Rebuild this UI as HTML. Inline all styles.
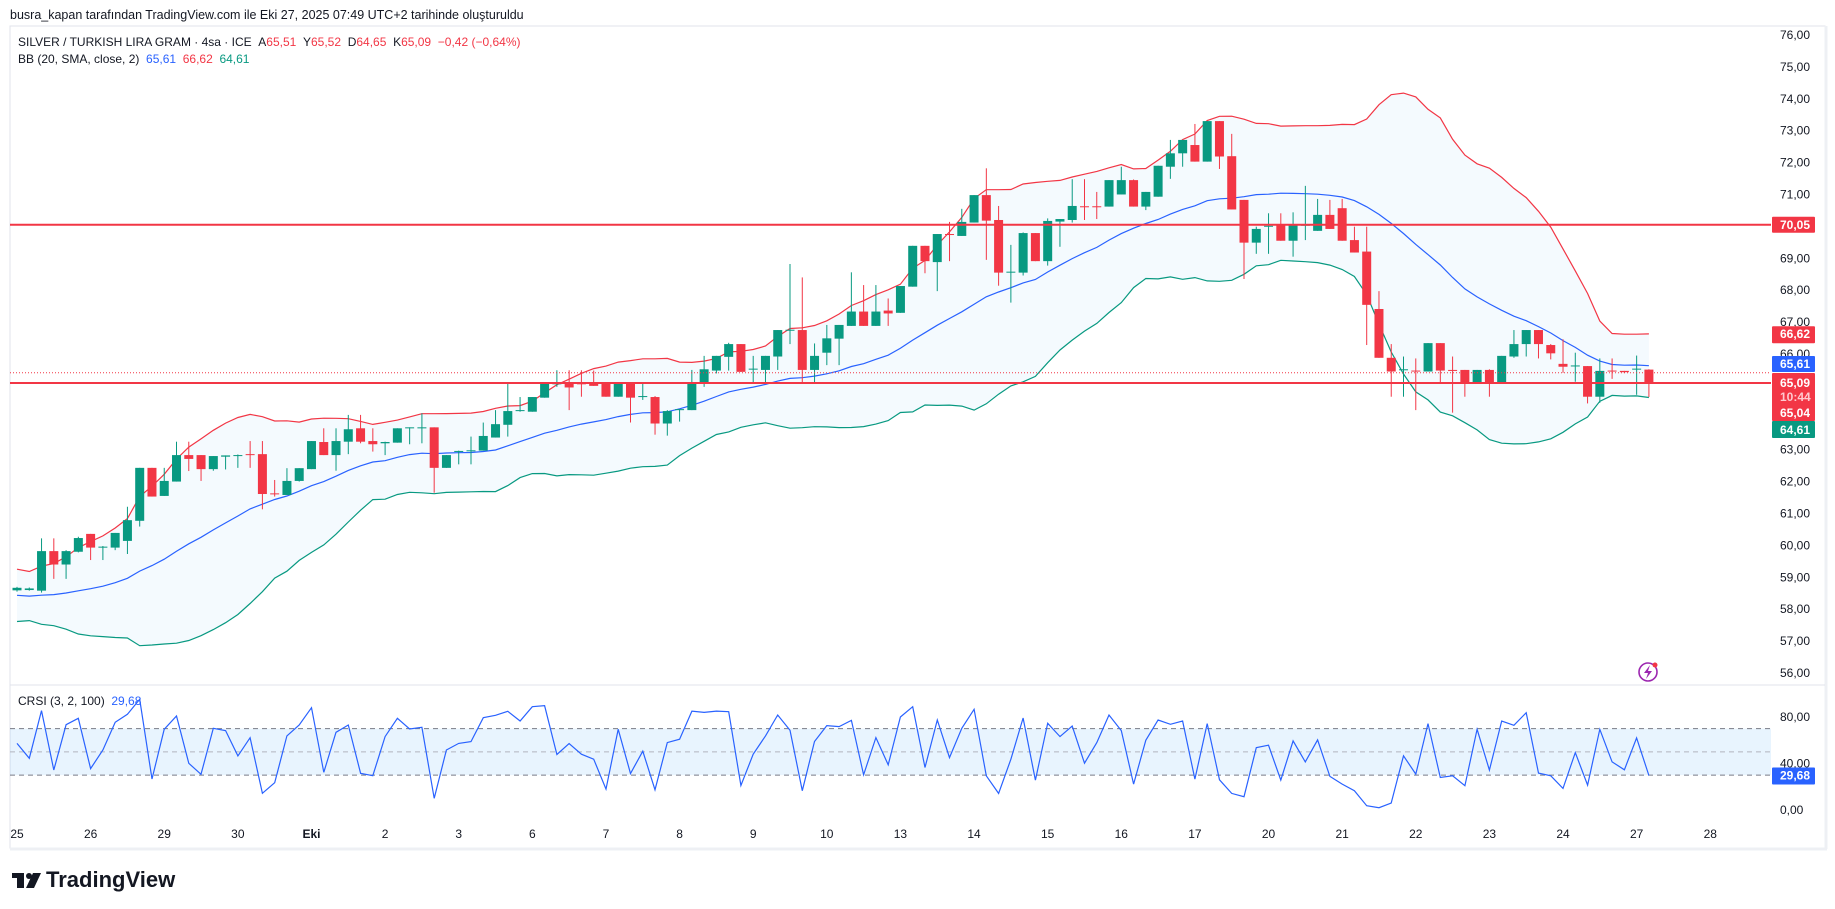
<!DOCTYPE html>
<html><head><meta charset="utf-8">
<style>
html,body{margin:0;padding:0;background:#fff;}
body{width:1835px;height:909px;position:relative;overflow:hidden;font-family:"Liberation Sans",sans-serif;color:#131722;}
.t{position:absolute;white-space:nowrap;font-size:12px;line-height:14px;}
.r{color:#f23645}.b{color:#2962ff}.g{color:#089981}
svg{position:absolute;left:0;top:0;}
</style></head>
<body>
<div class="t" style="left:10px;top:8px;font-size:12.5px;">busra_kapan tarafından TradingView.com ile Eki 27, 2025 07:49 UTC+2 tarihinde oluşturuldu</div>
<svg id="chart" width="1835" height="909"></svg>
<div class="t" style="left:18px;top:35px;">SILVER / TURKISH LIRA GRAM · 4sa · ICE&nbsp;&nbsp;A<span class="r">65,51</span>&nbsp;&nbsp;Y<span class="r">65,52</span>&nbsp;&nbsp;D<span class="r">64,65</span>&nbsp;&nbsp;K<span class="r">65,09</span>&nbsp;&nbsp;<span class="r">−0,42 (−0,64%)</span></div>
<div class="t" style="left:18px;top:52px;">BB (20, SMA, close, 2)&nbsp;&nbsp;<span class="b">65,61</span>&nbsp;&nbsp;<span class="r">66,62</span>&nbsp;&nbsp;<span class="g">64,61</span></div>
<div class="t" style="left:18px;top:694px;">CRSI (3, 2, 100)&nbsp;&nbsp;<span class="b">29,68</span></div>
<div style="position:absolute;left:12px;top:868px;height:24px;">
<svg width="30" height="24" style="position:absolute;left:0;top:2px;"><rect x="0" y="3" width="12" height="5" fill="#131722"/><rect x="5" y="3" width="7" height="15" fill="#131722"/><circle cx="17" cy="6" r="3" fill="#131722"/><polygon points="21,3 29,3 22,18 14,18" fill="#131722"/></svg>
<div style="position:absolute;left:34px;top:0;font-size:22px;font-weight:bold;color:#131722;white-space:nowrap;line-height:24px;">TradingView</div>
</div>
<script>
// ---------- data ----------
const dayLabels=["25","26","29","30","Eki","2","3","6","7","8","9","10","13","14","15","16","17","20","21","22","23","24","27","28"];
const priceTicks=[76,75,74,73,72,71,69,68,67,66,63,62,61,60,59,58,57,56];
const crsiTicks=[80,40,0];
const bbLastValues=[65.61,66.62,64.61];
const warmupCloses=[59.1,59.3,59.0,58.8,58.9,58.6,58.4,58.2,58.0,57.9,58.1,58.0,57.8,58.1,58.3,58.2,58.4,58.5,58.4];
const opens=[58.59,58.60,58.58,59.82,59.40,59.80,60.36,59.94,59.93,60.14,60.77,62.43,61.55,62.00,62.83,62.83,62.39,62.78,62.80,62.86,62.86,61.63,61.58,62.02,62.39,63.24,62.83,63.25,63.67,63.27,63.20,63.22,63.68,63.68,63.70,62.43,62.94,62.95,62.97,63.38,63.78,64.22,64.19,64.63,65.06,65.07,65.08,65.07,65.07,64.66,65.07,64.66,64.65,63.82,64.25,64.24,65.07,65.48,65.91,66.31,65.52,65.50,65.92,66.74,66.75,65.50,66.04,66.48,66.88,67.33,66.88,67.36,67.29,68.11,69.39,68.88,69.76,69.70,70.12,70.98,70.20,68.56,68.55,69.79,68.91,70.15,70.20,70.63,70.63,70.62,71.00,71.45,70.62,70.93,71.87,72.29,72.55,72.03,73.30,72.20,70.83,69.49,70.00,70.03,69.55,70.02,69.86,70.36,70.57,69.57,69.21,67.41,65.88,65.50,65.48,65.45,66.34,65.50,65.50,65.08,65.50,65.08,65.92,66.31,66.75,66.28,65.69,65.62,65.62,64.66,65.48,65.47,65.52,65.51];
const highs=[58.70,58.68,60.22,60.22,59.85,60.27,60.36,59.98,60.39,61.21,62.43,62.43,62.43,63.25,63.25,62.83,62.80,62.82,62.85,63.27,63.27,62.05,62.42,62.42,63.27,63.67,63.67,64.09,64.09,63.67,63.25,63.67,63.70,64.14,63.70,62.83,62.97,63.41,63.85,64.24,65.07,64.65,64.65,65.07,65.49,65.49,65.49,65.48,65.07,65.07,65.07,65.07,64.68,64.24,64.27,65.50,65.94,65.94,66.35,66.31,65.94,65.94,66.75,68.82,68.40,66.33,66.91,66.91,68.56,68.16,68.16,67.74,68.13,69.39,69.39,69.76,70.14,70.55,70.98,71.82,70.64,69.42,69.81,69.79,70.25,70.23,71.48,71.48,71.08,71.45,71.87,71.47,71.08,71.90,72.71,72.71,73.21,73.30,73.30,72.90,70.83,69.99,70.41,70.41,70.44,71.27,70.86,70.83,70.86,69.99,69.99,67.97,66.31,65.92,65.86,66.34,66.34,65.92,65.50,65.50,65.52,65.94,66.75,66.75,66.75,66.31,66.46,66.04,65.62,65.86,65.86,65.47,65.95,65.52];
const lows=[58.55,58.58,58.52,58.95,58.95,59.78,59.54,59.54,59.85,59.73,60.59,61.53,61.55,62.00,62.33,62.02,62.34,62.38,62.43,62.43,61.13,61.53,61.58,62.00,62.39,62.83,62.34,62.86,63.20,62.94,62.83,63.22,63.17,63.20,61.65,62.43,62.54,62.54,62.97,63.38,63.41,64.19,64.19,64.63,64.97,64.24,64.66,65.00,64.66,64.66,63.85,64.56,63.47,63.44,63.88,64.24,64.97,65.39,65.48,65.44,65.07,65.07,65.50,66.31,65.07,65.07,65.65,65.65,66.88,66.88,66.88,66.88,67.29,68.11,68.53,67.97,68.91,69.70,70.12,68.95,68.14,67.61,68.46,68.91,68.77,69.36,70.12,70.20,70.23,70.62,71.00,70.62,70.51,70.93,71.49,71.87,72.03,72.03,71.80,70.53,68.35,69.14,69.14,69.55,69.05,69.57,69.86,69.92,69.55,69.18,66.28,65.88,64.66,64.66,64.24,65.45,65.08,64.16,64.66,65.08,64.66,65.08,65.88,65.92,65.86,65.83,65.41,65.13,64.45,64.47,65.22,65.40,64.72,64.65];
const closes=[58.67,58.65,59.82,59.40,59.82,60.23,59.93,59.96,60.39,60.79,62.43,61.53,62.02,62.83,62.71,62.39,62.80,62.82,62.83,62.83,61.61,61.60,62.02,62.42,63.27,62.83,63.27,63.64,63.25,63.17,63.24,63.67,63.70,63.70,62.43,62.83,62.96,62.98,63.43,63.80,64.21,64.24,64.65,65.07,65.08,64.95,65.06,65.00,64.66,65.07,64.63,64.68,63.82,64.21,64.27,65.07,65.52,65.94,66.31,65.44,65.54,65.94,66.75,66.76,65.50,65.94,66.49,66.91,67.33,66.88,67.33,67.27,68.13,69.39,68.91,69.76,69.74,70.14,70.98,70.18,68.55,68.58,69.79,68.91,70.17,70.23,70.64,70.60,70.62,71.45,71.45,70.62,71.08,71.90,72.29,72.71,72.03,73.30,72.19,70.53,69.49,69.92,70.02,69.55,70.03,70.05,70.36,69.92,69.55,69.18,67.54,65.88,65.45,65.52,65.46,66.34,65.48,65.47,65.08,65.50,65.08,65.94,66.31,66.75,66.31,66.02,65.60,65.64,64.66,65.47,65.46,65.43,65.54,65.09];
const crsiValues=[57.3,44.5,85.5,34.4,73.4,78.9,35.6,51.6,75.4,82.3,95.2,26.7,69.4,80.9,40.2,30.7,70.3,68.3,46.5,62.2,14.4,23.5,63.7,73.1,88.0,32.4,66.8,73.1,31.6,29.5,63.1,78.9,69.7,71.1,10.1,51.6,57.3,58.8,79.4,81.5,84.9,76.6,88.9,89.7,47.7,57.1,48.0,43.7,18.0,69.4,31.4,50.6,17.4,58.0,60.9,85.1,84.0,85.1,84.6,21.1,48.0,63.7,81.7,68.6,16.6,58.9,72.6,71.7,77.1,30.3,62.3,38.9,80.0,88.9,36.6,77.4,45.1,70.3,86.6,29.4,14.3,43.7,79.1,25.7,74.6,63.1,72.3,40.3,58.0,81.7,68.3,22.3,60.0,77.4,73.7,76.6,26.6,74.3,26.0,14.3,11.4,53.7,55.7,25.7,59.4,41.4,60.3,28.9,22.3,16.6,3.7,2.0,6.0,46.6,30.9,74.3,28.0,29.4,20.9,69.4,34.3,76.6,72.9,83.7,31.7,29.4,18.6,49.4,21.4,69.4,41.4,34.6,62.0,29.68];
const hLevels=[70.05,65.09];
const prevCloseLevel=65.41;

// ---------- scales ----------
const NS="http://www.w3.org/2000/svg";
const svg=document.getElementById('chart');
const PL=10, PR=1771;
function xI(i){return 17+12.27*i;}
function yP(v){return 383-(v-65.09)*31.9;}
function yC(v){return 810-v*1.1625;}
function mk(tag,attrs,parent){const e=document.createElementNS(NS,tag);for(const k in attrs)e.setAttribute(k,attrs[k]);(parent||svg).appendChild(e);return e;}
function fmt(v){return v.toFixed(2).replace('.',',');}

let e;
e=mk('rect',{x:10,y:26,width:1815,height:822,fill:'none',stroke:'#e0e3eb','stroke-width':1});


e=mk('line',{x1:1826,y1:26,x2:1826,y2:849,stroke:'#eef0f4','stroke-width':3});


e=mk('line',{x1:10,y1:849,x2:1827,y2:849,stroke:'#eef0f4','stroke-width':3});


e=mk('line',{x1:10,y1:685,x2:1825,y2:685,stroke:'#e0e3eb','stroke-width':1});



const defs=mk('defs',{});
const cp=mk('clipPath',{id:'pc'},defs);
mk('rect',{x:PL,y:27,width:PR-PL,height:657},cp);
const pane=mk('g',{'clip-path':'url(#pc)'});



const all=warmupCloses.concat(closes);
const up=[],mid=[],lo=[];
for(let i=0;i<closes.length;i++){
  const w=all.slice(i+warmupCloses.length-19,i+warmupCloses.length+1);
  const m=w.reduce((a,b)=>a+b,0)/w.length;
  const sd=Math.sqrt(w.reduce((a,b)=>a+(b-m)*(b-m),0)/w.length);
  mid.push(m);up.push(m+2*sd);lo.push(m-2*sd);
}
let fillD='M'+up.map((v,i)=>xI(i).toFixed(1)+','+yP(v).toFixed(1)).join('L');
for(let i=lo.length-1;i>=0;i--)fillD+='L'+xI(i).toFixed(1)+','+yP(lo[i]).toFixed(1);
e=mk('path',{d:fillD+'Z',fill:'rgba(33,150,243,0.05)',stroke:'none'},pane);


function line(arr,col,yf,par){
  return mk('polyline',{points:arr.map((v,i)=>xI(i).toFixed(1)+','+yf(v).toFixed(1)).join(' '),fill:'none',stroke:col,'stroke-width':1.2},par);
}
e=line(up,'#f23645',yP,pane);


e=line(mid,'#2962ff',yP,pane);


e=line(lo,'#089981',yP,pane);



e=mk('line',{x1:PL,x2:PR,y1:yP(prevCloseLevel),y2:yP(prevCloseLevel),stroke:'#f23645','stroke-width':1,'stroke-dasharray':'1,2'});


hLevels.forEach(v=>{
  const l=mk('line',{x1:PL,x2:PR,y1:yP(v),y2:yP(v),stroke:'#f23645','stroke-width':2});
  
  
});

for(let i=0;i<closes.length;i++){
  const g=mk('g',{},pane);
  
  
  const col=closes[i]>=opens[i]?'#089981':'#f23645';
  const x=xI(i);
  mk('line',{x1:x,x2:x,y1:yP(highs[i]),y2:yP(lows[i]),stroke:col,'stroke-width':1},g);
  const t=yP(Math.max(opens[i],closes[i])),b=yP(Math.min(opens[i],closes[i]));
  mk('rect',{x:x-4.5,y:t,width:9,height:Math.max(1,b-t),fill:col},g);
}

priceTicks.forEach(v=>{
  const t=mk('text',{x:1780,y:yP(v)+4,'font-size':12,fill:'#131722','font-family':'Liberation Sans, sans-serif'});
  t.textContent=fmt(v);
  
  
});
function tag(y1,y2,col,lines,name){
  const g=mk('g',{});
  
  
  mk('rect',{x:1772,y:y1,width:43,height:y2-y1,fill:col,rx:1},g);
  lines.forEach(l=>{const t=mk('text',{x:1780,y:l[1],'font-size':12,'font-weight':'bold',fill:l[2]||'#fff','font-family':'Liberation Sans, sans-serif'},g);t.textContent=l[0];});
}
tag(yP(70.05)-8,yP(70.05)+8,'#f23645',[['70,05',yP(70.05)+4]],'level-70-05-label');
tag(yP(bbLastValues[1])-8,yP(bbLastValues[1])+9,'#f23645',[[fmt(bbLastValues[1]),yP(bbLastValues[1])+4]],'bb-upper-label');
tag(356,372,'#2962ff',[[fmt(bbLastValues[0]),368]],'bb-basis-label');
tag(373,421,'#f23645',[['65,09',387],['10:44',401,'#ffc9cf'],['65,04',417]],'last-price-label');
tag(421,438,'#089981',[[fmt(bbLastValues[2]),434]],'bb-lower-label');

e=mk('rect',{x:PL,y:yC(70),width:PR-PL,height:yC(30)-yC(70),fill:'rgba(33,150,243,0.1)'});


[70,50,30].forEach(v=>{
  const l=mk('line',{x1:PL,x2:PR,y1:yC(v),y2:yC(v),stroke:v==50?'#b2b5be':'#787b86','stroke-width':1,'stroke-dasharray':'5,4'});
  
  
});
e=line(crsiValues,'#2962ff',yC,null);


crsiTicks.forEach(v=>{
  const t=mk('text',{x:1780,y:yC(v)+4,'font-size':12,fill:'#131722','font-family':'Liberation Sans, sans-serif'});
  t.textContent=fmt(v);
  
  
});
const cl=crsiValues[crsiValues.length-1];
tag(yC(cl)-8,yC(cl)+9,'#2962ff',[[fmt(cl),yC(cl)+4]],'crsi-value-label');

dayLabels.forEach((d,k)=>{
  const t=mk('text',{x:xI(k*6),y:838,'font-size':12,'text-anchor':'middle',fill:'#131722','font-weight':d==='Eki'?'bold':'normal','font-family':'Liberation Sans, sans-serif'});
  t.textContent=d;
  
  
});

const ic=mk('g',{});


mk('circle',{cx:1648,cy:672,r:9,fill:'none',stroke:'#9c27b0','stroke-width':1.6},ic);
mk('polygon',{points:'1650,665 1644,673 1648,673 1646,679 1652,671 1648,671',fill:'#9c27b0'},ic);
mk('circle',{cx:1655,cy:665,r:2.5,fill:'#f23645'},ic);
</script>
</body></html>
